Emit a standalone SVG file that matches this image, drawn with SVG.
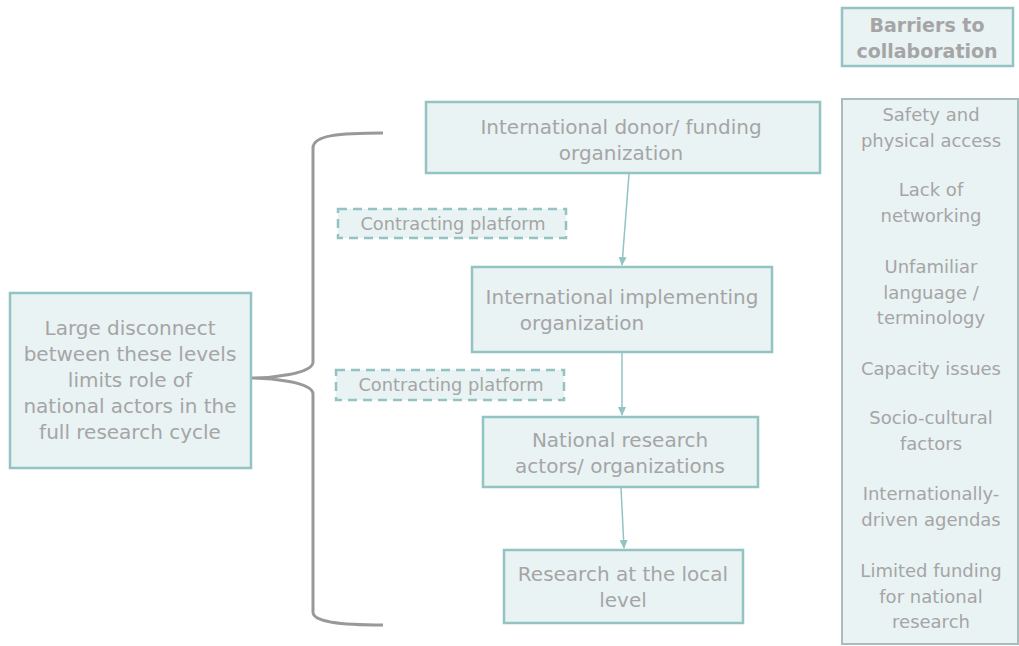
<svg xmlns="http://www.w3.org/2000/svg" width="1019" height="646" viewBox="0 0 1019 646">
<style>
.box{fill:#e9f3f4;stroke:#94c3c3;stroke-width:2.5}
.dash{fill:#e9f3f4;stroke:#94c3c3;stroke-width:2.5;stroke-dasharray:9 6}
.side{fill:#e9f3f4;stroke:#a8bcbc;stroke-width:2}
text{font-family:"DejaVu Sans",Verdana,sans-serif;fill:#a5a5a5;text-anchor:middle;font-size:20px}
.sm{font-size:17.8px}
.l{font-size:18px}
.b{font-weight:bold;font-size:19px}
.con{fill:none;stroke:#94c3c3;stroke-width:1.5}
.brace{fill:none;stroke:#999;stroke-width:3}
</style>
<defs>
<marker id="ah" markerWidth="10" markerHeight="10" refX="8" refY="5" orient="auto" markerUnits="userSpaceOnUse">
<path d="M0,1 L9,5 L0,9 z" fill="#94c3c3"/>
</marker>
</defs>
<g id="connectors">
<line class="con" x1="629" y1="174" x2="622" y2="265" marker-end="url(#ah)"/>
<line class="con" x1="622" y1="353" x2="622" y2="415" marker-end="url(#ah)"/>
<line class="con" x1="621" y1="488" x2="624" y2="548" marker-end="url(#ah)"/>
<path class="brace" d="M383,133 C340,133 313,135 313,148 L313,362 C313,374 270,378 252,378 C270,378 313,382 313,394 L313,612 C313,622 340,625 383,625"/>
</g>
<g id="barriers-title">
<rect class="box" x="842" y="8" width="171" height="58"/>
<text class="b" x="927" y="32">Barriers to</text>
<text class="b" x="927" y="58">collaboration</text>
</g>
<g id="donor">
<rect class="box" x="426" y="102" width="394" height="71"/>
<text x="621" y="134">International donor/ funding</text>
<text x="621" y="160">organization</text>
</g>
<g id="platform1">
<rect class="dash" x="338" y="209" width="228" height="29"/>
<text class="sm" x="453" y="230">Contracting platform</text>
</g>
<g id="implementing">
<rect class="box" x="472" y="267" width="300" height="85"/>
<text x="622" y="304">International implementing</text>
<text x="582" y="330">organization</text>
</g>
<g id="platform2">
<rect class="dash" x="336" y="370" width="228" height="30"/>
<text class="sm" x="451" y="391">Contracting platform</text>
</g>
<g id="national">
<rect class="box" x="483" y="417" width="275" height="70"/>
<text x="620" y="447">National research</text>
<text x="620" y="473">actors/ organizations</text>
</g>
<g id="local">
<rect class="box" x="504" y="550" width="239" height="73"/>
<text x="623" y="581">Research at the local</text>
<text x="623" y="607">level</text>
</g>
<g id="disconnect">
<rect class="box" x="10" y="293" width="241" height="175"/>
<text x="130" y="335">Large disconnect</text>
<text x="130" y="361">between these levels</text>
<text x="130" y="387">limits role of</text>
<text x="130" y="413">national actors in the</text>
<text x="130" y="439">full research cycle</text>
</g>
<g id="barriers-list">
<rect class="side" x="842" y="99" width="176" height="545"/>
<text class="l" x="931" y="121">Safety and</text>
<text class="l" x="931" y="147">physical access</text>
<text class="l" x="931" y="196">Lack of</text>
<text class="l" x="931" y="222">networking</text>
<text class="l" x="931" y="273">Unfamiliar</text>
<text class="l" x="931" y="299">language /</text>
<text class="l" x="931" y="324">terminology</text>
<text class="l" x="931" y="375">Capacity issues</text>
<text class="l" x="931" y="424">Socio-cultural</text>
<text class="l" x="931" y="450">factors</text>
<text class="l" x="931" y="500">Internationally-</text>
<text class="l" x="931" y="526">driven agendas</text>
<text class="l" x="931" y="577">Limited funding</text>
<text class="l" x="931" y="603">for national</text>
<text class="l" x="931" y="628">research</text>
</g>
</svg>
